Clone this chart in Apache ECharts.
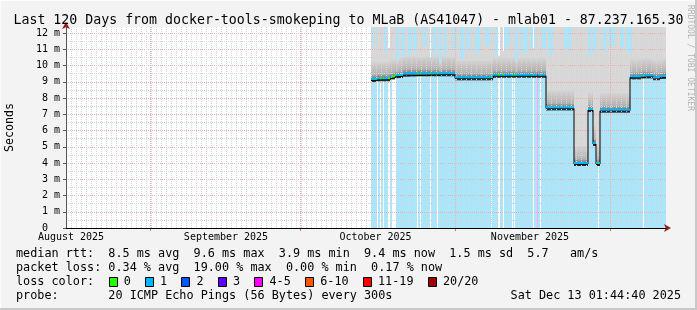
<!DOCTYPE html>
<html><head><meta charset="utf-8">
<script src="https://cdn.jsdelivr.net/npm/echarts@6/dist/echarts.min.js"></script>
<style>
html,body{margin:0;padding:0;background:#f3f3f3;}
#c{width:697px;height:310px;background:#f3f3f3;box-shadow: inset -2px -2px 0 #c8c8c8, inset 1px 1px 0 #fdfdfd;}
</style></head><body><div id="c"></div>
<script>
// ---------- data ----------
const titleText = 'Last 120 Days from docker-tools-smokeping to MLaB (AS41047) - mlab01 - 87.237.165.30';
const spanDays = 120;                       // x axis: days since start of graph
const yMax = 12.37;
const yTickLabels = [0,1,2,3,4,5,6,7,8,9,10,11,12];
const monthStartDays = [16.8, 46.8, 77.8, 108.8];
const monthLabelDays = [1.0, 32.0, 61.9, 92.8];
const monthLabels = ['August 2025', 'September 2025', 'October 2025', 'November 2025'];

// median rtt (ms): piecewise segments
const medianStart = [61.0, 62.2, 64.8, 65.8, 67.4, 77.8, 85.4, 96.0, 101.6, 104.4, 105.4, 106.0, 106.8, 112.8, 115.0, 117.4, 118.8];
const medianValue = [9.11, 9.15, 9.27, 9.35, 9.46, 9.21, 9.37, 7.36, 3.94, 7.26, 5.17, 3.94, 7.22, 9.27, 9.33, 9.22, 9.30];
const dataEnd = 120.0;

// spans with zero loss (otherwise 1 lost ping)
const zeroLossStart = [62.2, 62.8, 63.4, 64.4, 65.2, 70.2, 70.8, 72.8, 74.2, 85.0, 86.4, 87.4, 89.2, 89.6, 93.4, 94.8, 106.4, 115.4];
const zeroLossEnd   = [62.4, 63.0, 63.6, 64.8, 66.0, 70.4, 71.0, 73.0, 74.4, 85.2, 86.8, 87.6, 89.4, 89.8, 93.6, 95.0, 106.6, 115.6];
// spans with 4-5 lost pings
const highLossStart = [94.2];
const highLossEnd   = [94.4];

// where the smoke (max ping) stays below the top of the graph
const notchStart = [61.2, 62.0, 63.6, 64.4, 66.0, 67.0, 68.4, 69.4, 71.4, 72.8, 73.6, 74.6, 75.6, 77.4, 78.8, 80.0, 81.8, 83.8, 85.8, 87.4, 88.2, 89.8, 90.8, 91.6, 92.8, 95.2, 96.4, 99.6, 104.4, 105.4, 107.4, 108.6, 110.8, 112.0];
const notchEnd   = [61.6, 62.2, 64.2, 64.8, 66.6, 67.8, 69.0, 70.2, 72.2, 73.4, 74.2, 75.2, 76.2, 78.2, 79.6, 80.8, 82.8, 84.8, 86.8, 88.0, 88.8, 90.4, 91.4, 92.4, 93.8, 96.0, 97.4, 101.0, 105.0, 106.2, 108.2, 109.8, 111.6, 113.2];
const notchTop   = [11.3, 11.0, 10.8, 11.1, 10.3, 10.6, 10.6, 10.9, 11.2, 10.5, 10.8, 10.2, 10.7, 11.0, 10.4, 10.9, 10.8, 11.2, 10.6, 10.9, 11.2, 10.3, 10.7, 10.8, 11.1, 11.0, 10.7, 11.0, 10.6, 10.9, 10.9, 11.2, 11.1, 10.8];

const lossLabels = ['0', '1', '2', '3', '4-5', '6-10', '11-19', '20/20'];
const lossColors = ['#26ff00', '#00b8ff', '#0059ff', '#5e00ff', '#ff00ff', '#ff5500', '#ff0000', '#a10000'];

const statLines = [
  'median rtt:  8.5 ms avg  9.6 ms max  3.9 ms min  9.4 ms now  1.5 ms sd  5.7   am/s',
  'packet loss: 0.34 % avg  19.00 % max  0.00 % min  0.17 % now'
];
const lossTitle = 'loss color:';
const probeText = 'probe:       20 ICMP Echo Pings (56 Bytes) every 300s';
const dateText = 'Sat Dec 13 01:44:40 2025';
const creditText = 'RRDTOOL / TOBI OETIKER';

// ---------- helpers ----------
const F = '"DejaVu Sans Mono", monospace';
function lighten(hex, a) {
  const n = parseInt(hex.slice(1), 16);
  const r = (n >> 16) & 255, g = (n >> 8) & 255, b = n & 255;
  const m = c => Math.round(c * a + 255 * (1 - a));
  return 'rgb(' + m(r) + ',' + m(g) + ',' + m(b) + ')';
}
const lossBg = lossColors.map(c => lighten(c, 0.34));

function buildRows() {
  const set = new Set();
  const add = v => set.add(Math.round(v * 10) / 10);
  medianStart.forEach(add); add(dataEnd);
  zeroLossStart.forEach(add); zeroLossEnd.forEach(add);
  highLossStart.forEach(add); highLossEnd.forEach(add);
  notchStart.forEach(add); notchEnd.forEach(add);
  const arr = [...set].sort((p, q) => p - q).filter(v => v >= medianStart[0] && v <= dataEnd);
  const rows = [];
  for (let i = 0; i < arr.length - 1; i++) {
    const a = arr[i], e = arr[i + 1], mid = (a + e) / 2;
    let med = medianValue[0];
    medianStart.forEach((s, k) => { if (s <= mid) med = medianValue[k]; });
    let cls = 1;
    zeroLossStart.forEach((s, k) => { if (mid > s && mid < zeroLossEnd[k]) cls = 0; });
    highLossStart.forEach((s, k) => { if (mid > s && mid < highLossEnd[k]) cls = 4; });
    let top = 13;
    notchStart.forEach((s, k) => { if (mid > s && mid < notchEnd[k]) top = notchTop[k]; });
    rows.push([a, e, med, top, cls]);
  }
  return rows;
}
const rows = buildRows();
const medianLine = medianStart.map((s, i) => [s, medianValue[i]]).concat([[dataEnd, medianValue[medianValue.length - 1]]]);

// ---------- chart ----------
const chart = echarts.init(document.getElementById('c'), null, { renderer: 'canvas' });

const W = 7.12; // monospace char width of legend font
const legendFont = '11.8px ' + F;
const graphics = [];
statLines.forEach((t, i) => graphics.push({ type: 'text', x: 16, y: 254 + i * 14, style: { text: t, font: legendFont, fill: '#000', verticalAlign: 'middle' } }));
graphics.push({ type: 'text', x: 16, y: 282, style: { text: lossTitle, font: legendFont, fill: '#000', verticalAlign: 'middle' } });
let bx = 16 + 13 * W;
lossLabels.forEach((lab, i) => {
  graphics.push({ type: 'rect', shape: { x: Math.round(bx) + 0.5, y: 277.5, width: 8, height: 9 }, style: { fill: lossColors[i], stroke: '#000', lineWidth: 1 } });
  const lx = bx + 15.1;
  graphics.push({ type: 'text', x: lx, y: 282, style: { text: lab, font: legendFont, fill: '#000', verticalAlign: 'middle' } });
  bx = lx + (lab.length + 2) * W;
});
graphics.push({ type: 'text', x: 16, y: 296, style: { text: probeText, font: legendFont, fill: '#000', verticalAlign: 'middle' } });
graphics.push({ type: 'text', x: 681, y: 296, style: { text: dateText, font: legendFont, fill: '#000', align: 'right', verticalAlign: 'middle' } });
graphics.push({ type: 'text', x: 690, y: 5, rotation: -Math.PI / 2, style: { text: creditText, font: '8px ' + F, fill: '#b4b4b4', verticalAlign: 'middle' } });
graphics.push({ type: 'text', x: 10, y: 127.5, rotation: Math.PI / 2, style: { text: 'Seconds', font: '11.6px ' + F, fill: '#000', align: 'center', verticalAlign: 'middle' } });

const option = {
  animation: false,
  title: { text: titleText, left: 'center', top: 9, textStyle: { fontFamily: F, fontSize: 13.25, fontWeight: 'normal', color: '#000' } },
  grid: { left: 66, right: 31, top: 27, bottom: 82, show: true, backgroundColor: '#ffffff', borderWidth: 0, containLabel: false, outerBoundsMode: 'none' },
  graphic: graphics,
  xAxis: [{
    type: 'value', min: 0, max: spanDays, interval: 1, z: 3, position: 'bottom',
    axisLine: { show: true, onZero: false, lineStyle: { color: '#000', width: 1 } },
    axisTick: { show: false },
    axisLabel: {
      customValues: monthLabelDays, margin: 4, fontFamily: F, fontSize: 10, color: '#000',
      formatter: v => { const i = monthLabelDays.findIndex(d => Math.abs(d - v) < 1e-6); return i >= 0 ? monthLabels[i] : ''; }
    },
    splitLine: { show: true, showMinLine: false, showMaxLine: false, lineStyle: { color: '#d4d4d4', type: [1, 1], width: 1 } }
  }, {
    type: 'value', min: 0, max: spanDays, z: 2.9, position: 'bottom', offset: 0,
    axisLine: { show: true, onZero: false, symbol: ['none', 'arrow'], symbolSize: [6, 7], symbolOffset: [0, 5], lineStyle: { color: '#9a1b1b', width: 1 } },
    axisTick: { show: true, customValues: monthStartDays, length: 3, lineStyle: { color: '#e07070' } },
    axisLabel: { show: false }, splitLine: { show: false }
  }],
  yAxis: [{
    type: 'value', min: 0, max: yMax, interval: 1, z: 3,
    axisLine: { show: true, lineStyle: { color: '#555', width: 1 } },
    axisTick: { show: true, length: 3, lineStyle: { color: '#555' } },
    axisLabel: {
      margin: 6, fontFamily: F, fontSize: 10, color: '#000', showMaxLabel: false,
      formatter: v => { const k = yTickLabels.indexOf(Math.round(v)); if (Math.abs(v - Math.round(v)) > 1e-6 || k < 0) return ''; return yTickLabels[k] === 0 ? '0  ' : yTickLabels[k] + ' m'; }
    },
    splitLine: { show: true, showMinLine: false, showMaxLine: false, lineStyle: { color: '#eab0b0', type: [1, 1], width: 1 } },
    minorTick: { show: false, splitNumber: 2 },
    minorSplitLine: { show: true, lineStyle: { color: '#d4d4d4', type: [1, 1], width: 1 } }
  }, {
    type: 'value', min: 0, max: yMax, z: 2.9, position: 'left', offset: 0,
    axisLine: { show: true, symbol: ['none', 'arrow'], symbolSize: [6, 7], symbolOffset: [0, 5], lineStyle: { color: '#9a1b1b', width: 1 } },
    axisTick: { show: false }, axisLabel: { show: false }, splitLine: { show: false }
  }],
  series: [
    { // loss background
      type: 'custom', z: 1, clip: true, xAxisIndex: 0, yAxisIndex: 0,
      data: rows, encode: { x: [0, 1], y: [2] },
      renderItem: (params, api) => {
        const cls = api.value(4);
        if (cls === 0) return null;
        const p0 = api.coord([api.value(0), yMax]), p1 = api.coord([api.value(1), 0]);
        return { type: 'rect', shape: { x: p0[0], y: p0[1], width: p1[0] - p0[0], height: p1[1] - p0[1] }, style: { fill: lossBg[cls] } };
      },
      markLine: {
        silent: true, symbol: ['none', 'none'], label: { show: false }, z: 3,
        lineStyle: { color: '#eab0b0', type: [1, 1], width: 1 },
        data: monthStartDays.map(d => ({ xAxis: d }))
      }
    },
    { // smoke
      type: 'custom', z: 2, clip: true, xAxisIndex: 0, yAxisIndex: 0,
      data: rows, encode: { x: [0, 1], y: [2, 3] },
      renderItem: (params, api) => {
        const a = api.value(0), e = api.value(1), med = api.value(2), top = Math.min(api.value(3), yMax + 0.5);
        const pa = api.coord([a, med]), pe = api.coord([e, top]);
        const x = pa[0], w = pe[0] - pa[0], yMed = pa[1], yTop = pe[1];
        const yMid = api.coord([a, Math.min(med + 1.1, top)])[1];
        return { type: 'group', children: [
          { type: 'rect', shape: { x: x, y: yTop, width: w, height: yMed - yTop }, style: { fill: '#d8d8d8' } },
          { type: 'rect', shape: { x: x, y: yMid, width: w, height: yMed - yMid }, style: { fill: new echarts.graphic.LinearGradient(0, 0, 0, 1, [{ offset: 0, color: '#d4d4d4' }, { offset: 0.7, color: '#b4b4b4' }, { offset: 1, color: '#666666' }]) } },
          { type: 'rect', shape: { x: x, y: yMed, width: w, height: 2 }, style: { fill: '#2a2a2a' } }
        ] };
      }
    },
    { // median trace
      type: 'line', z: 4, step: 'end', showSymbol: false, xAxisIndex: 0, yAxisIndex: 0,
      data: medianLine, lineStyle: { color: '#000', width: 1 }
    },
    { // median coloured by loss
      type: 'custom', z: 5, clip: true, xAxisIndex: 0, yAxisIndex: 0,
      data: rows, encode: { x: [0, 1], y: [2] },
      renderItem: (params, api) => {
        const pa = api.coord([api.value(0), api.value(2)]), pe = api.coord([api.value(1), api.value(2)]);
        return { type: 'rect', shape: { x: pa[0], y: pa[1] - 2, width: pe[0] - pa[0], height: 2 }, style: { fill: lossColors[api.value(4)] } };
      }
    }
  ]
};
chart.setOption(option);
</script>
</body></html>
